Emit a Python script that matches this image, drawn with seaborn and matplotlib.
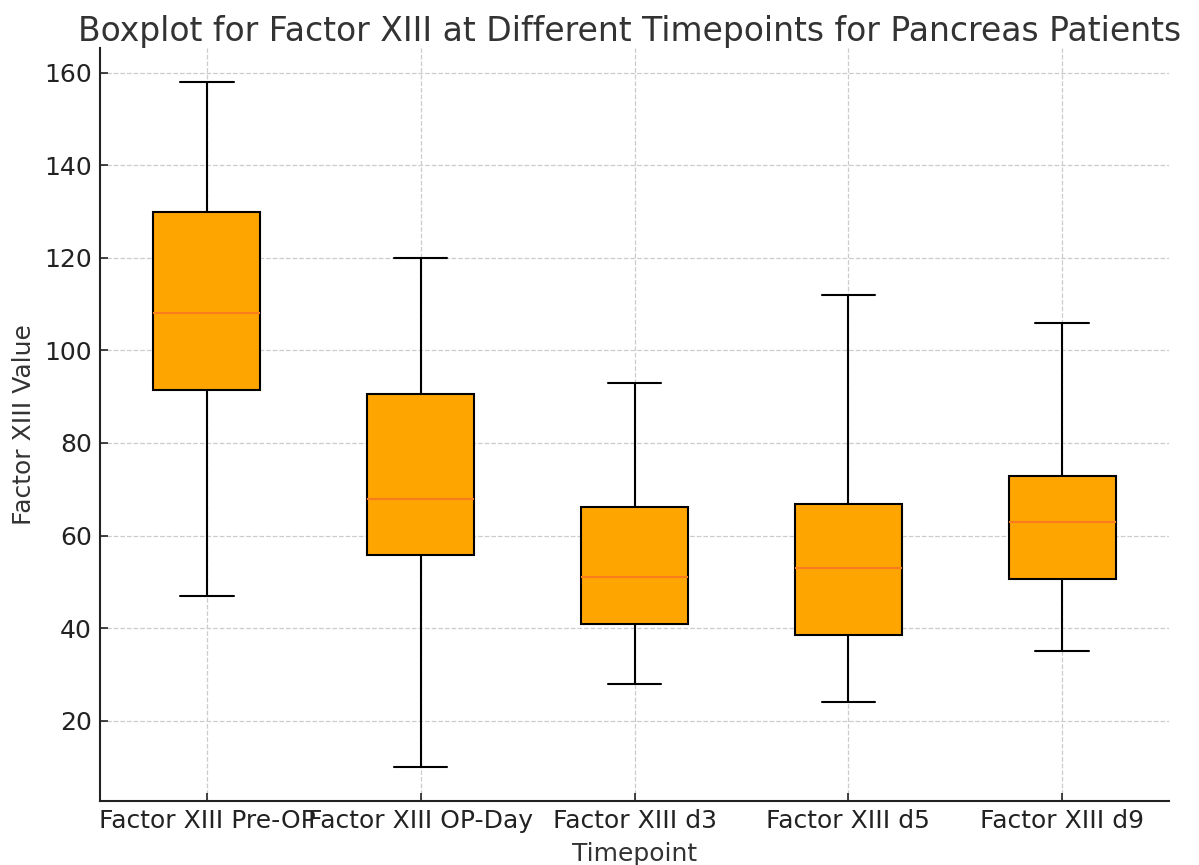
import pandas as pd
import seaborn as sns
import matplotlib.pyplot as plt

# Timepoints and box statistics (min, q1, median, q3, max)
timepoints = ["Factor XIII Pre-OP", "Factor XIII OP-Day", "Factor XIII d3",
              "Factor XIII d5", "Factor XIII d9"]
mins = [47, 10, 28, 24, 35]
q1s = [91.5, 55.8, 40.8, 38.4, 50.6]
medians = [108, 68, 51, 53, 63]
q3s = [130, 90.7, 66.2, 66.8, 72.8]
maxs = [158, 120, 93, 112, 106]

# Five values per group reproduce the quartiles exactly (whiskers at min/max)
rows = []
for i, tp in enumerate(timepoints):
    for v in (mins[i], q1s[i], medians[i], q3s[i], maxs[i]):
        rows.append({"Timepoint": tp, "Value": v})
data = pd.DataFrame(rows)

sns.set_style("whitegrid")
plt.rcParams['font.family'] = ['DejaVu Sans']

fig, ax = plt.subplots(figsize=(11.99, 8.65), dpi=100)
fig.subplots_adjust(left=0.0834, right=0.975, top=0.9445, bottom=0.074)

sns.boxplot(data=data, x="Timepoint", y="Value", ax=ax, whis=(0, 100),
            width=0.5, color="#FFA500", saturation=1, linecolor="black",
            linewidth=1.5, showfliers=False,
            medianprops={"color": "#F97C1E", "linewidth": 1.5})

text_color = "#333333"
ax.set_title("Boxplot for Factor XIII at Different Timepoints for Pancreas Patients",
             fontsize=23.8, color=text_color, pad=5, x=0.4953)
ax.set_xlabel("Timepoint", fontsize=18, color=text_color, labelpad=6)
ax.set_ylabel("Factor XIII Value", fontsize=18, color=text_color, labelpad=6)
ax.tick_params(axis="both", labelsize=18, labelcolor="#222222", direction="in",
               length=6, width=1.2, color="#222222", left=True, bottom=True,
               pad=6)

ax.grid(True, linestyle="--", color="#cccccc", linewidth=0.9)
ax.set_axisbelow(True)
for side in ("top", "right"):
    ax.spines[side].set_visible(False)
for side in ("left", "bottom"):
    ax.spines[side].set_color("#222222")
    ax.spines[side].set_linewidth(1.5)

plt.savefig("out.png", dpi=100)
plt.close()
